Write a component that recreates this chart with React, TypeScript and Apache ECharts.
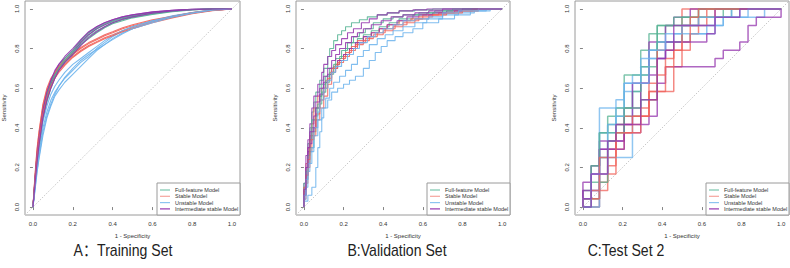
import React, { useEffect, useRef } from 'react';
import * as echarts from 'echarts';

const MODELS = ['Full-feature Model', 'Stable Model', 'Unstable Model', 'Intermediate stable Model'];
const LINE_COLORS = ['#55B393', '#F0625A', '#6BB3EC', '#9434AE'];
const KEY_COLORS = ['#7CC7AD', '#F5A49E', '#8CC4F0', '#9434AE'];
const AXIS_TICKS = [0, 0.2, 0.4, 0.6, 0.8, 1];
const TICK_LABELS = ['0.0', '0.2', '0.4', '0.6', '0.8', '1.0'];
const PANEL_TITLES = ['A：Training Set', 'B:Validation Set', 'C:Test Set 2'];

// Training set: sensitivity of each resampled fit at shared 1 - specificity values
const trainFpr = [0, 0.01, 0.02, 0.03, 0.05, 0.07, 0.09, 0.11, 0.13, 0.16, 0.2, 0.24, 0.28, 0.32, 0.36, 0.4, 0.45, 0.5, 0.6, 0.7, 0.8, 0.9, 1];
const trainFull = [
  [0, 0.13, 0.25, 0.33, 0.47, 0.56, 0.62, 0.67, 0.70, 0.73, 0.78, 0.83, 0.87, 0.90, 0.92, 0.935, 0.95, 0.962, 0.978, 0.99, 0.997, 1, 1],
  [0, 0.11, 0.22, 0.30, 0.44, 0.53, 0.60, 0.65, 0.69, 0.73, 0.77, 0.82, 0.86, 0.89, 0.91, 0.93, 0.945, 0.958, 0.975, 0.988, 0.996, 1, 1],
  [0, 0.14, 0.26, 0.35, 0.49, 0.57, 0.63, 0.67, 0.71, 0.75, 0.79, 0.84, 0.88, 0.905, 0.925, 0.94, 0.955, 0.965, 0.98, 0.99, 0.997, 1, 1],
  [0, 0.12, 0.23, 0.31, 0.45, 0.55, 0.61, 0.66, 0.70, 0.74, 0.78, 0.82, 0.85, 0.88, 0.905, 0.925, 0.94, 0.955, 0.972, 0.986, 0.995, 1, 1],
];
const trainStable = [
  [0, 0.15, 0.28, 0.37, 0.51, 0.59, 0.64, 0.675, 0.70, 0.735, 0.77, 0.80, 0.825, 0.845, 0.865, 0.88, 0.90, 0.915, 0.94, 0.96, 0.98, 0.993, 1],
  [0, 0.13, 0.26, 0.35, 0.50, 0.58, 0.63, 0.66, 0.69, 0.72, 0.76, 0.79, 0.815, 0.835, 0.855, 0.87, 0.89, 0.905, 0.935, 0.958, 0.978, 0.992, 1],
  [0, 0.16, 0.29, 0.38, 0.52, 0.60, 0.65, 0.68, 0.71, 0.74, 0.775, 0.805, 0.83, 0.85, 0.87, 0.885, 0.905, 0.92, 0.945, 0.963, 0.982, 0.994, 1],
  [0, 0.12, 0.24, 0.33, 0.47, 0.55, 0.61, 0.65, 0.68, 0.715, 0.755, 0.785, 0.81, 0.83, 0.85, 0.865, 0.885, 0.90, 0.93, 0.955, 0.976, 0.991, 1],
];
const trainUnstable = [
  [0, 0.10, 0.20, 0.27, 0.40, 0.48, 0.54, 0.58, 0.61, 0.65, 0.69, 0.73, 0.76, 0.80, 0.83, 0.86, 0.89, 0.91, 0.94, 0.965, 0.982, 0.995, 1],
  [0, 0.08, 0.17, 0.24, 0.36, 0.45, 0.51, 0.56, 0.59, 0.63, 0.67, 0.71, 0.75, 0.79, 0.82, 0.85, 0.88, 0.90, 0.935, 0.962, 0.98, 0.994, 1],
  [0, 0.11, 0.22, 0.30, 0.43, 0.51, 0.57, 0.61, 0.64, 0.68, 0.72, 0.75, 0.78, 0.81, 0.84, 0.865, 0.89, 0.91, 0.94, 0.963, 0.981, 0.994, 1],
  [0, 0.09, 0.18, 0.25, 0.38, 0.46, 0.52, 0.57, 0.61, 0.655, 0.70, 0.74, 0.77, 0.795, 0.82, 0.845, 0.875, 0.90, 0.93, 0.958, 0.978, 0.993, 1],
];
const trainIntermediate = [
  [0, 0.13, 0.25, 0.34, 0.48, 0.57, 0.63, 0.68, 0.72, 0.75, 0.79, 0.84, 0.88, 0.91, 0.93, 0.945, 0.96, 0.97, 0.985, 0.993, 0.998, 1, 1],
  [0, 0.12, 0.24, 0.32, 0.46, 0.55, 0.62, 0.67, 0.71, 0.74, 0.78, 0.83, 0.87, 0.90, 0.92, 0.94, 0.955, 0.967, 0.982, 0.992, 0.997, 1, 1],
  [0, 0.14, 0.26, 0.35, 0.49, 0.58, 0.64, 0.69, 0.72, 0.76, 0.80, 0.845, 0.885, 0.91, 0.93, 0.945, 0.96, 0.97, 0.984, 0.993, 0.998, 1, 1],
  [0, 0.11, 0.22, 0.31, 0.45, 0.54, 0.60, 0.65, 0.69, 0.73, 0.77, 0.815, 0.855, 0.885, 0.91, 0.93, 0.948, 0.96, 0.978, 0.99, 0.996, 1, 1],
];

// Validation set: ROC corner points [1 - specificity, sensitivity]
const validFull = [
  [[0, 0], [0.01, 0.1], [0.02, 0.2], [0.03, 0.32], [0.04, 0.4], [0.05, 0.48], [0.06, 0.53], [0.08, 0.58], [0.1, 0.64], [0.12, 0.7], [0.13, 0.76], [0.15, 0.8], [0.17, 0.84], [0.19, 0.87], [0.21, 0.89], [0.24, 0.91], [0.28, 0.93], [0.32, 0.945], [0.37, 0.96], [0.42, 0.97], [0.48, 0.98], [0.56, 0.99], [0.65, 0.995], [0.75, 1], [1, 1]],
  [[0, 0], [0.01, 0.06], [0.02, 0.14], [0.03, 0.22], [0.05, 0.3], [0.06, 0.38], [0.07, 0.46], [0.09, 0.52], [0.11, 0.58], [0.13, 0.63], [0.15, 0.67], [0.18, 0.72], [0.21, 0.76], [0.24, 0.8], [0.27, 0.83], [0.3, 0.85], [0.34, 0.87], [0.38, 0.89], [0.43, 0.91], [0.48, 0.93], [0.55, 0.95], [0.62, 0.97], [0.7, 0.98], [0.8, 0.99], [0.9, 1], [1, 1]],
  [[0, 0], [0.01, 0.12], [0.02, 0.18], [0.03, 0.26], [0.04, 0.34], [0.06, 0.44], [0.08, 0.5], [0.09, 0.56], [0.11, 0.62], [0.13, 0.66], [0.16, 0.7], [0.19, 0.75], [0.22, 0.79], [0.25, 0.83], [0.28, 0.86], [0.31, 0.88], [0.35, 0.9], [0.4, 0.93], [0.45, 0.95], [0.5, 0.96], [0.58, 0.97], [0.66, 0.98], [0.75, 0.99], [0.85, 1], [1, 1]],
];
const validStable = [
  [[0, 0], [0.01, 0.08], [0.02, 0.22], [0.03, 0.3], [0.04, 0.36], [0.05, 0.42], [0.07, 0.5], [0.09, 0.56], [0.11, 0.6], [0.13, 0.64], [0.15, 0.68], [0.17, 0.71], [0.2, 0.74], [0.23, 0.77], [0.27, 0.8], [0.31, 0.83], [0.35, 0.85], [0.4, 0.87], [0.45, 0.89], [0.5, 0.91], [0.56, 0.93], [0.63, 0.95], [0.7, 0.97], [0.78, 0.98], [0.86, 0.99], [0.95, 1], [1, 1]],
  [[0, 0], [0.01, 0.04], [0.02, 0.12], [0.03, 0.2], [0.04, 0.28], [0.06, 0.36], [0.08, 0.44], [0.1, 0.5], [0.12, 0.56], [0.14, 0.62], [0.16, 0.68], [0.18, 0.72], [0.21, 0.75], [0.24, 0.78], [0.27, 0.81], [0.3, 0.84], [0.34, 0.86], [0.38, 0.88], [0.42, 0.9], [0.48, 0.92], [0.54, 0.94], [0.6, 0.95], [0.68, 0.97], [0.76, 0.98], [0.85, 0.99], [0.92, 1], [1, 1]],
  [[0, 0], [0.01, 0.1], [0.02, 0.16], [0.03, 0.24], [0.05, 0.34], [0.06, 0.4], [0.08, 0.47], [0.1, 0.54], [0.12, 0.6], [0.14, 0.65], [0.17, 0.7], [0.2, 0.73], [0.23, 0.76], [0.26, 0.79], [0.3, 0.82], [0.33, 0.84], [0.37, 0.86], [0.41, 0.88], [0.46, 0.9], [0.52, 0.92], [0.58, 0.94], [0.65, 0.96], [0.72, 0.97], [0.8, 0.98], [0.88, 0.99], [0.96, 1], [1, 1]],
];
const validUnstable = [
  [[0, 0], [0.02, 0.03], [0.04, 0.06], [0.06, 0.1], [0.07, 0.2], [0.08, 0.3], [0.09, 0.38], [0.1, 0.45], [0.12, 0.5], [0.14, 0.54], [0.17, 0.58], [0.2, 0.6], [0.23, 0.62], [0.26, 0.64], [0.3, 0.66], [0.33, 0.7], [0.36, 0.74], [0.39, 0.78], [0.42, 0.81], [0.46, 0.84], [0.5, 0.86], [0.55, 0.88], [0.6, 0.9], [0.68, 0.93], [0.76, 0.95], [0.84, 0.97], [0.92, 0.99], [1, 1]],
  [[0, 0], [0.01, 0.04], [0.02, 0.1], [0.03, 0.18], [0.05, 0.28], [0.07, 0.36], [0.09, 0.44], [0.11, 0.5], [0.13, 0.55], [0.15, 0.6], [0.18, 0.63], [0.21, 0.66], [0.24, 0.69], [0.27, 0.72], [0.3, 0.76], [0.33, 0.79], [0.37, 0.82], [0.41, 0.85], [0.45, 0.87], [0.5, 0.89], [0.56, 0.91], [0.62, 0.93], [0.7, 0.95], [0.78, 0.97], [0.86, 0.98], [0.94, 0.99], [1, 1]],
  [[0, 0], [0.01, 0.06], [0.02, 0.14], [0.04, 0.22], [0.05, 0.3], [0.07, 0.4], [0.08, 0.48], [0.1, 0.54], [0.12, 0.6], [0.14, 0.64], [0.16, 0.68], [0.19, 0.71], [0.22, 0.74], [0.25, 0.77], [0.28, 0.8], [0.32, 0.83], [0.36, 0.86], [0.4, 0.88], [0.45, 0.9], [0.5, 0.92], [0.56, 0.94], [0.63, 0.95], [0.7, 0.96], [0.78, 0.98], [0.88, 0.99], [0.96, 1], [1, 1]],
];
const validIntermediate = [
  [[0, 0], [0.01, 0.12], [0.02, 0.26], [0.03, 0.34], [0.04, 0.42], [0.05, 0.5], [0.07, 0.56], [0.09, 0.62], [0.1, 0.68], [0.12, 0.72], [0.14, 0.76], [0.16, 0.79], [0.19, 0.82], [0.22, 0.85], [0.25, 0.88], [0.29, 0.9], [0.33, 0.93], [0.37, 0.95], [0.42, 0.97], [0.48, 0.98], [0.55, 0.99], [0.62, 0.995], [0.7, 1], [1, 1]],
  [[0, 0], [0.01, 0.06], [0.02, 0.16], [0.03, 0.28], [0.04, 0.32], [0.06, 0.4], [0.08, 0.5], [0.1, 0.57], [0.12, 0.63], [0.14, 0.67], [0.17, 0.7], [0.2, 0.74], [0.23, 0.77], [0.26, 0.8], [0.3, 0.83], [0.34, 0.86], [0.38, 0.88], [0.42, 0.9], [0.47, 0.92], [0.52, 0.94], [0.58, 0.96], [0.65, 0.97], [0.72, 0.98], [0.8, 0.99], [0.9, 1], [1, 1]],
  [[0, 0], [0.01, 0.09], [0.02, 0.2], [0.03, 0.3], [0.05, 0.38], [0.06, 0.46], [0.08, 0.53], [0.1, 0.6], [0.12, 0.66], [0.14, 0.7], [0.16, 0.74], [0.18, 0.77], [0.21, 0.8], [0.24, 0.83], [0.27, 0.86], [0.3, 0.88], [0.34, 0.9], [0.39, 0.92], [0.44, 0.94], [0.5, 0.96], [0.56, 0.97], [0.63, 0.98], [0.7, 0.99], [0.8, 1], [1, 1]],
];

// Test set 2: 24 negatives and 24 positives; corner points as [false positives, true positives]
const TEST_NEG = 24;
const TEST_POS = 24;
const testFull = [
  [[0, 0], [1, 2], [2, 5], [3, 9], [7, 11], [9, 19], [14, 22], [24, 24]],
  [[0, 0], [2, 1], [3, 6], [5, 10], [8, 16], [10, 21], [13, 22], [18, 23], [24, 24]],
  [[0, 0], [1, 0], [3, 3], [4, 8], [6, 12], [7, 14], [9, 17], [12, 20], [17, 23], [24, 24]],
  [[0, 0], [1, 1], [2, 5], [5, 9], [7, 12], [9, 13], [11, 22], [14, 23], [17, 24], [24, 24]],
];
const testStable = [
  [[0, 0], [1, 0], [2, 1], [3, 3], [4, 5], [7, 10], [8, 11], [11, 14], [12, 17], [24, 24]],
  [[0, 0], [2, 0], [3, 2], [4, 4], [5, 9], [8, 11], [9, 15], [10, 16], [11, 18], [13, 19], [14, 21], [16, 23], [24, 24]],
  [[0, 0], [2, 1], [3, 4], [5, 7], [7, 9], [8, 12], [10, 14], [11, 17], [13, 20], [15, 22], [24, 24]],
  [[0, 0], [1, 1], [2, 2], [4, 6], [6, 9], [8, 11], [9, 13], [12, 19], [13, 22], [14, 23], [24, 24]],
];
const testUnstable = [
  [[0, 0], [2, 0], [5, 12], [6, 14], [8, 16], [10, 18], [11, 19], [16, 21], [17, 22], [22, 23], [24, 24]],
  [[0, 0], [2, 0], [6, 6], [7, 14], [8, 17], [10, 19], [13, 20], [15, 21], [17, 22], [18, 23], [24, 24]],
  [[0, 0], [1, 0], [2, 2], [4, 9], [5, 11], [7, 15], [9, 18], [12, 20], [14, 22], [19, 23], [24, 24]],
  [[0, 0], [1, 1], [3, 4], [4, 10], [5, 13], [8, 15], [10, 19], [12, 21], [16, 22], [20, 23], [22, 24], [24, 24]],
];
const testIntermediate = [
  [[0, 0], [1, 3], [2, 4], [4, 7], [5, 8], [7, 9], [8, 10], [9, 11], [10, 15], [16, 17], [17, 18], [19, 19], [20, 20], [21, 22], [24, 23], [24, 24]],
  [[0, 0], [2, 2], [5, 8], [7, 12], [8, 15], [10, 20], [11, 22], [13, 23], [16, 24], [24, 24]],
  [[0, 0], [1, 0], [2, 5], [5, 7], [6, 10], [8, 15], [9, 16], [10, 18], [15, 20], [16, 21], [24, 24]],
  [[0, 0], [1, 1], [3, 4], [4, 8], [7, 10], [9, 13], [10, 18], [11, 19], [16, 22], [19, 23], [23, 24], [24, 24]],
];

// Panel frames in pixels: left, top, width, height
const PANELS = [
  { left: 24, top: 1, width: 216, height: 214 },
  { left: 296, top: 1, width: 214, height: 214 },
  { left: 575, top: 1, width: 214, height: 214 },
];
// Horizontal centres of the panel captions
const TITLE_X = [123, 397, 626];
const TITLE_Y = 250;

const FONT = '"Liberation Sans", Arial, sans-serif';

function lineSeries(data: number[][], panel: number, model: number, step: false | 'start', width: number, opacity: number) {
  return {
    type: 'line',
    xAxisIndex: panel,
    yAxisIndex: panel,
    data,
    symbol: 'none',
    showSymbol: false,
    step,
    silent: true,
    clip: true,
    z: 3,
    lineStyle: { color: LINE_COLORS[model], width, opacity },
  };
}

function buildOption() {
  const series: any[] = [];

  // chance diagonal in each panel
  for (let p = 0; p < 3; p++) {
    series.push({
      type: 'line',
      xAxisIndex: p,
      yAxisIndex: p,
      data: [[-0.04, -0.04], [1.04, 1.04]],
      symbol: 'none',
      silent: true,
      clip: true,
      z: 2,
      lineStyle: { color: '#c8c8c8', width: 1, type: [1.5, 1.5] },
    });
  }

  const train = [trainFull, trainStable, trainUnstable, trainIntermediate];
  for (let c = 0; c < 4; c++) {
    train.forEach((curves, m) => {
      const ys = curves[c];
      series.push(lineSeries(trainFpr.map((x, i) => [x, ys[i]]), 0, m, false, 1.1, 0.9));
    });
  }

  const valid = [validFull, validStable, validUnstable, validIntermediate];
  for (let c = 0; c < 3; c++) {
    valid.forEach((curves, m) => {
      series.push(lineSeries(curves[c], 1, m, 'start', 1.1, 0.85));
    });
  }

  const test = [testFull, testStable, testUnstable, testIntermediate];
  for (let c = 0; c < 4; c++) {
    test.forEach((curves, m) => {
      const pts = curves[c].map(([fp, tp]) => [fp / TEST_NEG, tp / TEST_POS]);
      series.push(lineSeries(pts, 2, m, 'start', 1.5, 0.75));
    });
  }

  const grid = PANELS.map((g) => ({
    left: g.left,
    top: g.top,
    width: g.width,
    height: g.height,
    show: true,
    borderColor: '#9a9a9a',
    borderWidth: 1,
    backgroundColor: 'transparent',
    containLabel: false,
  }));

  const tickFmt = (v: number) => {
    const i = AXIS_TICKS.findIndex((t) => Math.abs(t - v) < 1e-6);
    return i >= 0 ? TICK_LABELS[i] : '';
  };

  const xAxis = PANELS.map((_, i) => ({
    type: 'value',
    gridIndex: i,
    min: -0.04,
    max: 1.04,
    name: '1 - Specificity',
    nameLocation: 'middle',
    nameGap: 18,
    nameTextStyle: { fontSize: 6, color: '#333', fontFamily: FONT },
    axisLine: { show: false },
    axisTick: { show: true, length: 3, customValues: AXIS_TICKS, lineStyle: { color: '#666', width: 0.8 } },
    axisLabel: { show: true, customValues: AXIS_TICKS, formatter: tickFmt, fontSize: 6, color: '#333', fontFamily: FONT, margin: 6 },
    splitLine: { show: false },
  }));

  const yAxis = PANELS.map((_, i) => ({
    type: 'value',
    gridIndex: i,
    min: -0.04,
    max: 1.04,
    name: 'Sensitivity',
    nameLocation: 'middle',
    nameGap: 18,
    nameRotate: 90,
    nameTextStyle: { fontSize: 6, color: '#333', fontFamily: FONT },
    axisLine: { show: false },
    axisTick: { show: true, length: 3, customValues: AXIS_TICKS, lineStyle: { color: '#666', width: 0.8 } },
    axisLabel: { show: true, customValues: AXIS_TICKS, formatter: tickFmt, rotate: 90, fontSize: 6, color: '#333', fontFamily: FONT, margin: 5 },
    splitLine: { show: false },
  }));

  const graphic: any[] = [];
  PANELS.forEach((g, p) => {
    const boxW = 83;
    const boxH = 32;
    const bx = g.left + g.width - boxW;
    const by = g.top + g.height - boxH;
    graphic.push({
      type: 'rect',
      shape: { x: bx, y: by, width: boxW, height: boxH },
      style: { fill: '#fff', stroke: '#9a9a9a', lineWidth: 1 },
      z: 10,
    });
    MODELS.forEach((name, m) => {
      const ry = by + 7 + m * 6.3;
      graphic.push({
        type: 'line',
        shape: { x1: bx + 3, y1: ry, x2: bx + 13, y2: ry },
        style: { stroke: KEY_COLORS[m], lineWidth: 1.2 },
        z: 11,
      });
      graphic.push({
        type: 'text',
        x: bx + 18,
        y: ry,
        style: { text: name, fontSize: 5.5, fill: '#333', fontFamily: FONT, textVerticalAlign: 'middle', textAlign: 'left' },
        z: 11,
      });
    });
    graphic.push({
      type: 'text',
      x: TITLE_X[p],
      y: TITLE_Y,
      scaleX: 0.88,
      style: {
        text: PANEL_TITLES[p],
        fontSize: 16,
        fill: '#222',
        fontFamily: '"Liberation Sans", "Noto Sans CJK SC", Arial, sans-serif',
        textAlign: 'center',
        textVerticalAlign: 'middle',
      },
      z: 11,
    });
  });

  return {
    animation: false,
    backgroundColor: '#ffffff',
    grid,
    xAxis,
    yAxis,
    series,
    graphic,
  };
}

export default function App() {
  const ref = useRef<HTMLDivElement>(null);
  useEffect(() => {
    if (!ref.current) return;
    const chart = echarts.init(ref.current, undefined, { renderer: 'svg' });
    chart.setOption(buildOption() as any);
    return () => chart.dispose();
  }, []);
  return (
    <div
      ref={ref}
      style={{ position: 'absolute', left: 0, top: 0, width: 790, height: 268, background: '#fff' }}
    />
  );
}
